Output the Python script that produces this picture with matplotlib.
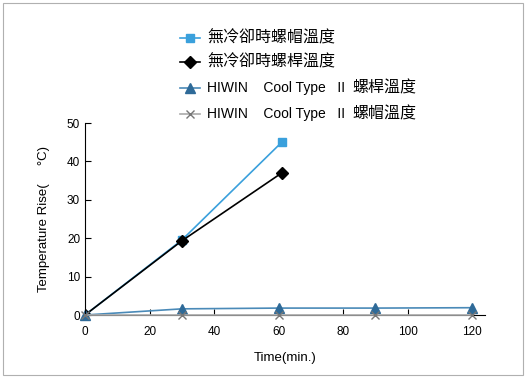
import matplotlib
matplotlib.use('Agg')
import matplotlib.pyplot as plt
from matplotlib.patches import Rectangle
from matplotlib.lines import Line2D

plt.rcParams['font.family'] = ['Liberation Sans', 'Noto Sans CJK TC', 'DejaVu Sans']

# Data
time_head = [0, 30, 61]
no_cool_head = [0, 19.5, 45]
time_rod = [0, 30, 61]
no_cool_rod = [0, 19.3, 37]
time_hiwin = [0, 30, 60, 90, 120]
hiwin_rod = [0, 1.6, 1.8, 1.8, 1.9]
hiwin_head = [0, 0.0, 0.0, 0.0, 0.0]

# legend texts: (latin part, cjk part)
labels = [('', '無冷卻時螺帽溫度'),
          ('', '無冷卻時螺桿溫度'),
          ('HIWIN    Cool Type   II', '螺桿溫度'),
          ('HIWIN    Cool Type   II', '螺帽溫度')]

W, H = 526, 378
fig = plt.figure(figsize=(W / 100, H / 100), dpi=100)
ax = fig.add_axes([85 / W, 1 - 315 / H, 400 / W, 192 / H])

# Border around the whole chart
fig.patches.append(Rectangle((0.006, 0.008), 0.988, 0.984, transform=fig.transFigure,
                             fill=False, edgecolor='#b0b0b0', linewidth=0.8))

styles = [
    dict(color='#3aa0dc', marker='s', markersize=6, linewidth=1.2),
    dict(color='black', marker='D', markersize=6, linewidth=1.2),
    dict(color='#4a8ab8', marker='^', markersize=6.5, markerfacecolor='#2e6a98',
         markeredgecolor='#2e6a98', linewidth=1.2),
    dict(color='#aaaaaa', marker='x', markersize=6, markeredgecolor='#777777', linewidth=1.2),
]

ax.plot(time_head, no_cool_head, **styles[0])
ax.plot(time_rod, no_cool_rod, **styles[1])
ax.plot(time_hiwin, hiwin_rod, clip_on=False, **styles[2])
ax.plot(time_hiwin, hiwin_head, clip_on=False, zorder=3, **styles[3])

ax.set_xlim(0, 124)
ax.set_ylim(0, 50)
ax.set_xticks([0, 20, 40, 60, 80, 100, 120])
ax.set_yticks([0, 10, 20, 30, 40, 50])
ax.tick_params(direction='in', labelsize=8.5, length=4)
ax.tick_params(axis='x', pad=8)
ax.spines['top'].set_visible(False)
ax.spines['right'].set_visible(False)

ax.set_xlabel('Time(min.)', fontsize=9.5, labelpad=10)
ax.set_ylabel('Temperature Rise(     °C)', fontsize=9.5, labelpad=12)

# legend drawn by hand so latin and CJK text can use different sizes
row_y = [38, 62, 88, 114]
for (latin, cjk), st, y in zip(labels, styles, row_y):
    yf = 1 - y / H
    fig.add_artist(Line2D([180 / W, 200 / W], [yf, yf], transform=fig.transFigure,
                          color=st['color'], linewidth=st['linewidth']))
    marker_kw = {k: v for k, v in st.items() if k != 'linewidth'}
    fig.add_artist(Line2D([190 / W], [yf], transform=fig.transFigure,
                          linestyle='none', **marker_kw))
    if latin:
        fig.text(207 / W, yf, latin, fontsize=10, va='center', family='Liberation Sans')
        fig.text(352 / W, yf, cjk, fontsize=11.5, va='center', family='Noto Sans CJK TC',
                 weight='medium')
    else:
        fig.text(207 / W, yf, cjk, fontsize=11.5, va='center', family='Noto Sans CJK TC',
                 weight='medium')

plt.savefig('out.png', dpi=100)
